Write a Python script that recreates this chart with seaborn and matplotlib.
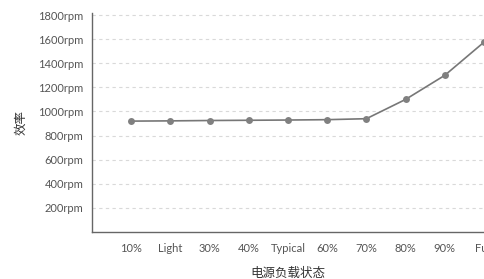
import matplotlib
matplotlib.use("Agg")
import matplotlib.pyplot as plt
import seaborn as sns
import pandas as pd

categories = ["10%", "Light", "30%", "40%", "Typical", "60%", "70%", "80%", "90%", "Full"]
rpm = [920, 922, 925, 927, 929, 932, 940, 1100, 1300, 1575]
y_ticks = [200, 400, 600, 800, 1000, 1200, 1400, 1600, 1800]

sns.set_style("white")
plt.rcParams["font.family"] = ["Lato", "Noto Sans CJK SC", "DejaVu Sans"]

df = pd.DataFrame({"pos": range(len(categories)), "rpm": rpm})

fig = plt.figure(figsize=(4.84, 2.79), dpi=100)
ax = fig.add_axes([92 / 484, 47 / 279, 392 / 484, 219 / 279])

sns.lineplot(data=df, x="pos", y="rpm", ax=ax, color="#777777", linewidth=1.2,
             marker="o", markersize=5, markeredgewidth=0, markerfacecolor="#808080")

ax.set_xlim(-1, 9)
ax.set_ylim(0, 1817)
ax.set_xticks(range(len(categories)))
ax.set_xticklabels(categories)
ax.set_yticks(y_ticks)
ax.set_yticklabels([f"{v}rpm" for v in y_ticks])

ax.grid(axis="y", linestyle=(0, (3, 3)), color="#d9d9d9", linewidth=0.8)
ax.set_axisbelow(True)
for side in ["top", "right"]:
    ax.spines[side].set_visible(False)
for side in ["left", "bottom"]:
    ax.spines[side].set_color("#666666")
    ax.spines[side].set_linewidth(1.0)

ax.tick_params(axis="x", direction="in", length=8, width=1, color="#666666",
               pad=8, labelsize=8, labelcolor="#555555")
ax.tick_params(axis="y", length=0, pad=6, labelsize=8, labelcolor="#555555")

ax.set_xlabel("电源负载状态", fontsize=9, color="#333333", labelpad=9,
              family=["Noto Sans CJK SC", "DejaVu Sans"])
ax.set_ylabel("效率", fontsize=9, color="#333333", labelpad=8,
              family=["Noto Sans CJK SC", "DejaVu Sans"])

fig.savefig("out.png", dpi=100)
